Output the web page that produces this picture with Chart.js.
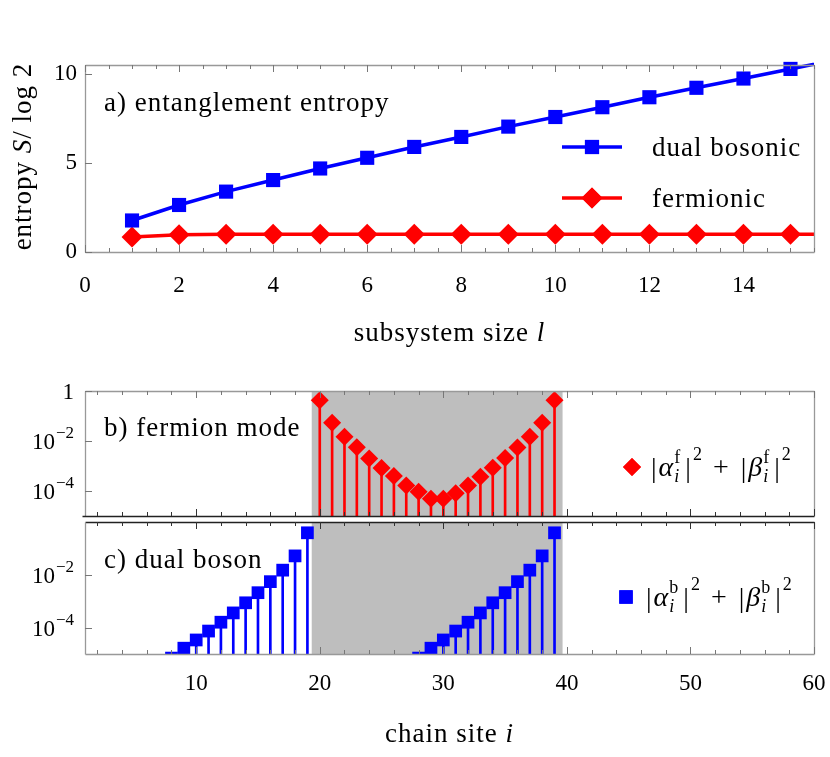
<!DOCTYPE html>
<html>
<head>
<meta charset="utf-8">
<script src="https://cdn.jsdelivr.net/npm/chart.js@4.4.1/dist/chart.umd.min.js"></script>
<style>
  body { margin: 0; background: #fff; }
  #page { position: relative; width: 830px; height: 757px; }
  #page canvas { position: absolute; left: 0; }
</style>
</head>
<body>
<div id="page">
  <canvas id="entropy" width="830" height="360" style="top:0"></canvas>
  <canvas id="fermion" width="830" height="165" style="top:360px"></canvas>
  <canvas id="boson" width="830" height="252" style="top:505px"></canvas>
</div>
<script>
// a) entanglement entropy vs subsystem size
const subsystemSizes = [1, 2, 3, 4, 5, 6, 7, 8, 9, 10, 11, 12, 13, 14, 15, 16];
const dualBosonic = [1.77, 2.64, 3.39, 4.04, 4.69, 5.29, 5.9, 6.46, 7.04, 7.58, 8.13, 8.69, 9.22, 9.74, 10.28, 10.8];
const fermionic = [0.84, 0.97, 1.0, 1.0, 1.0, 1.0, 1.0, 1.0, 1.0, 1.0, 1.0, 1.0, 1.0, 1.0, 1.0, 1.0];
const entropyTicksX = [0, 2, 4, 6, 8, 10, 12, 14];
const entropyTicksY = [0, 5, 10];

// b) fermion mode, c) dual boson
const fermionSites = [20, 21, 22, 23, 24, 25, 26, 27, 28, 29, 30, 31, 32, 33, 34, 35, 36, 37, 38, 39];
const fermionWeight = [0.43, 0.054, 0.0148, 5.6e-3, 2.0e-3, 8.3e-4, 4.0e-4, 1.66e-4, 9.3e-5, 4.9e-5,
                       4.9e-5, 8.2e-5, 1.66e-4, 3.7e-4, 8.6e-4, 2.1e-3, 5.5e-3, 0.0148, 0.054, 0.43];
const bosonSitesLeft = [8, 9, 10, 11, 12, 13, 14, 15, 16, 17, 18, 19];
const bosonSitesRight = [28, 29, 30, 31, 32, 33, 34, 35, 36, 37, 38, 39];
const bosonWeight = [7e-6, 1.66e-5, 3.4e-5, 7.4e-5, 1.6e-4, 3.6e-4, 8.7e-4, 2.1e-3, 5.5e-3, 0.015, 0.052, 0.39];
const siteTicks = [10, 20, 30, 40, 50, 60];
const fermionLogTicks = [1, 1e-2, 1e-4];
const bosonLogTicks = [1e-2, 1e-4];
const shadedSites = [19.35, 39.65];

const BLUE = '#0000ff', RED = '#ff0000';
const SERIF = '"Liberation Serif", "DejaVu Serif", serif';
Chart.defaults.font.family = SERIF;
Chart.defaults.color = '#000';

function font(size, italic) {
  return (italic ? 'italic ' : '') + size + 'px ' + SERIF;
}

function drawRich(ctx, x, y, parts, size, align) {
  ctx.save();
  ctx.letterSpacing = '1px';
  let w = 0;
  for (const [t, it] of parts) { ctx.font = font(size, it); w += ctx.measureText(t).width; }
  let cx = align === 'center' ? x - w / 2 : x;
  ctx.textAlign = 'left';
  ctx.textBaseline = 'alphabetic';
  ctx.fillStyle = '#000';
  for (const [t, it] of parts) {
    ctx.font = font(size, it);
    ctx.fillText(t, cx, y);
    cx += ctx.measureText(t).width;
  }
  ctx.restore();
}

// |α_i^tag|² + |β_i^tag|²
function drawAmplitudes(ctx, x, y, tag) {
  let cx = x;
  ctx.textAlign = 'left';
  ctx.textBaseline = 'alphabetic';
  ctx.fillStyle = '#000';
  const put = (t, size, it, dy, adv = true) => {
    ctx.font = font(size, it);
    ctx.fillText(t, cx, y + dy);
    const w = ctx.measureText(t).width;
    if (adv) cx += w;
    return w;
  };
  for (const g of ['α', 'β']) {
    put('|', 28, false, 1); cx += 2;
    put(g, 28, true, 0); cx += 1;
    const w = Math.max(put(tag, 18, false, -13, false), put('i', 18, true, 6, false));
    cx += w + 5;
    put('|', 28, false, 1); cx += 2;
    put('2', 18, false, -16);
    if (g === 'α') { cx += 11; put('+', 28, false, 0); cx += 12; }
  }
}

function steps(from, to, step) {
  const out = [];
  for (let v = from; v <= to + 1e-9; v += step) out.push(+v.toFixed(6));
  return out;
}

function tickMarks(chart, axis, values, side, len) {
  const {ctx, chartArea: a} = chart;
  const s = chart.scales[axis];
  ctx.beginPath();
  for (const v of values) {
    const p = Math.round(s.getPixelForValue(v)) + 0.5;
    if (side === 'bottom') { ctx.moveTo(p, a.bottom); ctx.lineTo(p, a.bottom - len); }
    if (side === 'top') { ctx.moveTo(p, a.top); ctx.lineTo(p, a.top + len); }
    if (side === 'left') { ctx.moveTo(a.left, p); ctx.lineTo(a.left + len, p); }
  }
  ctx.stroke();
}

function frame(chart, colors) {
  const {ctx, chartArea: a} = chart;
  const l = Math.round(a.left) + 0.5, r = Math.round(a.right) + 0.5;
  const t = Math.round(a.top) + 0.5, b = Math.round(a.bottom) + 0.5;
  const seg = (c, x1, y1, x2, y2) => {
    ctx.strokeStyle = c; ctx.beginPath(); ctx.moveTo(x1, y1); ctx.lineTo(x2, y2); ctx.stroke();
  };
  ctx.lineWidth = 1.3;
  seg(colors.top, l, t, r, t);
  seg(colors.right, r, t, r, b);
  seg(colors.left, l, t, l, b);
  seg(colors.bottom, colors.bottom === '#222' ? l - 3 : l, b, r, b);
}

function logLabels(chart) {
  const {ctx} = chart;
  const s = chart.scales.y;
  const right = chart.chartArea.left - 11;
  ctx.fillStyle = '#000';
  ctx.textAlign = 'right';
  ctx.textBaseline = 'alphabetic';
  for (const t of s.ticks) {
    const y = s.getPixelForValue(t.value);
    if (t.value === 1) {
      ctx.font = font(23);
      ctx.fillText('1', right, y + 8);
      continue;
    }
    const sup = '\u2212' + Math.abs(Math.round(Math.log10(t.value)));
    ctx.font = font(17);
    const ws = ctx.measureText(sup).width;
    ctx.fillText(sup, right, y - 3);
    ctx.font = font(23);
    ctx.fillText('10', right - ws - 1, y + 8);
  }
}

const shade = {
  id: 'shade',
  beforeDatasetsDraw(chart) {
    const {ctx, chartArea: a, scales: {x}} = chart;
    const x1 = x.getPixelForValue(shadedSites[0]), x2 = x.getPixelForValue(shadedSites[1]);
    ctx.save();
    ctx.fillStyle = '#bebebe';
    ctx.fillRect(x1, a.top, x2 - x1, a.bottom - a.top);
    ctx.restore();
  }
};

const hidden = { grid: { display: false, drawTicks: false }, border: { display: false } };
const noEdgePadding = s => { s.paddingLeft = 0; s.paddingRight = 0; s.paddingTop = 0; s.paddingBottom = 0; };

// ---------- a) ----------
new Chart(document.getElementById('entropy'), {
  type: 'line',
  data: {
    datasets: [
      {
        label: 'dual bosonic',
        data: subsystemSizes.map((l, i) => ({ x: l, y: dualBosonic[i] })),
        borderColor: BLUE, backgroundColor: BLUE, pointBackgroundColor: BLUE,
        borderWidth: 3.5, pointStyle: 'rect', pointRadius: 10, pointBorderWidth: 0,
        clip: { left: 12, top: 12, right: 0, bottom: 12 }
      },
      {
        label: 'fermionic',
        data: subsystemSizes.map((l, i) => ({ x: l, y: fermionic[i] })),
        borderColor: RED, backgroundColor: RED, pointBackgroundColor: RED,
        borderWidth: 3.5, pointStyle: 'rectRot', pointRadius: 10.5, pointBorderWidth: 0,
        clip: { left: 12, top: 12, right: 0, bottom: 12 }
      }
    ]
  },
  options: {
    responsive: false,
    animation: false,
    layout: { padding: { left: 0, top: 65, right: 16, bottom: 58 } },
    scales: {
      x: {
        type: 'linear', min: 0, max: 15.5, ...hidden,
        afterBuildTicks: s => { s.ticks = entropyTicksX.map(v => ({ value: v })); },
        afterFit: s => { s.height = 50; noEdgePadding(s); },
        ticks: { font: { size: 23 }, padding: 20, maxRotation: 0, autoSkip: false }
      },
      y: {
        type: 'linear', min: 0, max: 10.5, ...hidden,
        afterBuildTicks: s => { s.ticks = entropyTicksY.map(v => ({ value: v })); },
        afterFit: s => { s.width = 85; noEdgePadding(s); },
        ticks: { font: { size: 23 }, padding: 8 }
      }
    },
    plugins: { legend: { display: false }, tooltip: { enabled: false } }
  },
  plugins: [{
    id: 'decorA',
    afterDraw(chart) {
      const {ctx} = chart;
      ctx.save();
      frame(chart, { top: '#999', right: '#999', left: '#999', bottom: '#999' });
      ctx.strokeStyle = '#777';
      ctx.lineWidth = 1;
      const halves = steps(0, 15.5, 0.5);
      tickMarks(chart, 'x', halves, 'bottom', 4);
      tickMarks(chart, 'x', halves, 'top', 4);
      tickMarks(chart, 'x', entropyTicksX, 'bottom', 7);
      tickMarks(chart, 'x', entropyTicksX, 'top', 7);
      tickMarks(chart, 'y', entropyTicksY, 'left', 7);

      drawRich(ctx, 104, 111, [['a) entanglement entropy', false]], 27);

      // legend
      const items = [
        { label: 'dual bosonic', color: BLUE, style: 'rect', r: 10, y: 147, ty: 156 },
        { label: 'fermionic', color: RED, style: 'rectRot', r: 10.5, y: 198, ty: 207 }
      ];
      for (const it of items) {
        ctx.strokeStyle = it.color;
        ctx.lineWidth = 3.5;
        ctx.beginPath(); ctx.moveTo(562, it.y); ctx.lineTo(622, it.y); ctx.stroke();
        ctx.fillStyle = it.color;
        Chart.helpers.drawPoint(ctx, { pointStyle: it.style, radius: it.r, borderWidth: 0 }, 592, it.y);
        ctx.fill();
        drawRich(ctx, 652, it.ty, [[it.label, false]], 27);
      }

      drawRich(ctx, (chart.chartArea.left + chart.chartArea.right) / 2, 341,
        [['subsystem size ', false], ['l', true]], 27, 'center');

      ctx.translate(31, (chart.chartArea.top + chart.chartArea.bottom) / 2 - 2);
      ctx.rotate(-Math.PI / 2);
      drawRich(ctx, 0, 0, [['entropy ', false], ['S', true], ['/ log 2', false]], 27, 'center');
      ctx.restore();
    }
  }]
});

// ---------- b) ----------
new Chart(document.getElementById('fermion'), {
  type: 'scatter',
  data: {
    datasets: [
      {
        type: 'scatter', label: 'fermion',
        data: fermionSites.map((s, i) => ({ x: s, y: fermionWeight[i] })),
        backgroundColor: RED, pointStyle: 'rectRot', pointRadius: 9, borderWidth: 0, order: 1
      },
      {
        type: 'bar', label: 'fermion stems',
        data: fermionSites.map((s, i) => ({ x: s, y: fermionWeight[i] })),
        backgroundColor: RED, barThickness: 2, borderWidth: 0, order: 2
      }
    ]
  },
  options: {
    responsive: false,
    animation: false,
    layout: { padding: { left: 0, top: 31, right: 16, bottom: 3 } },
    scales: {
      x: { type: 'linear', min: 1, max: 60, offset: false, display: false, afterFit: noEdgePadding },
      y: {
        type: 'logarithmic', min: 1e-5, max: 1, ...hidden,
        afterBuildTicks: s => { s.ticks = fermionLogTicks.map(v => ({ value: v })); },
        afterFit: s => { s.width = 85; noEdgePadding(s); },
        ticks: { display: false }
      }
    },
    plugins: { legend: { display: false }, tooltip: { enabled: false } }
  },
  plugins: [shade, {
    id: 'decorB',
    afterDraw(chart) {
      const {ctx} = chart;
      ctx.save();
      frame(chart, { top: '#999', right: '#999', left: '#999', bottom: '#222' });
      ctx.strokeStyle = '#777';
      ctx.lineWidth = 1;
      const evens = steps(2, 60, 2);
      tickMarks(chart, 'x', evens, 'top', 4);
      tickMarks(chart, 'x', siteTicks, 'top', 7);
      ctx.strokeStyle = '#333';
      tickMarks(chart, 'x', evens, 'bottom', 4);
      tickMarks(chart, 'x', siteTicks, 'bottom', 7);
      ctx.strokeStyle = '#777';
      tickMarks(chart, 'y', fermionLogTicks, 'left', 7);
      logLabels(chart);

      drawRich(ctx, 104, 76, [['b) fermion mode', false]], 27);
      ctx.fillStyle = RED;
      Chart.helpers.drawPoint(ctx, { pointStyle: 'rectRot', radius: 9, borderWidth: 0 }, 632, 107);
      ctx.fill();
      drawAmplitudes(ctx, 651, 116, 'f');
      ctx.restore();
    }
  }]
});

// ---------- c) ----------
const bosonPoints = [
  ...bosonSitesLeft.map((s, i) => ({ x: s, y: bosonWeight[i] })),
  ...bosonSitesRight.map((s, i) => ({ x: s, y: bosonWeight[i] }))
];
new Chart(document.getElementById('boson'), {
  type: 'scatter',
  data: {
    datasets: [
      {
        type: 'scatter', label: 'boson',
        data: bosonPoints,
        backgroundColor: BLUE, pointStyle: 'rect', pointRadius: 9, borderWidth: 0, order: 1,
        clip: { left: 0, top: 10, right: 0, bottom: 0 }
      },
      {
        type: 'bar', label: 'boson stems',
        data: bosonPoints,
        backgroundColor: BLUE, barThickness: 2, borderWidth: 0, order: 2,
        clip: 0
      }
    ]
  },
  options: {
    responsive: false,
    animation: false,
    layout: { padding: { left: 0, top: 17, right: 16, bottom: 43 } },
    scales: {
      x: {
        type: 'linear', min: 1, max: 60, offset: false, ...hidden,
        afterBuildTicks: s => { s.ticks = siteTicks.map(v => ({ value: v })); },
        afterFit: s => { s.height = 60; noEdgePadding(s); },
        ticks: { font: { size: 23 }, padding: 16, maxRotation: 0, autoSkip: false }
      },
      y: {
        type: 'logarithmic', min: 1e-5, max: 1, ...hidden,
        afterBuildTicks: s => { s.ticks = bosonLogTicks.map(v => ({ value: v })); },
        afterFit: s => { s.width = 85; noEdgePadding(s); },
        ticks: { display: false }
      }
    },
    plugins: { legend: { display: false }, tooltip: { enabled: false } }
  },
  plugins: [shade, {
    id: 'decorC',
    afterDraw(chart) {
      const {ctx} = chart;
      ctx.save();
      frame(chart, { top: '#222', right: '#999', left: '#999', bottom: '#999' });
      ctx.lineWidth = 1;
      const evens = steps(2, 60, 2);
      ctx.strokeStyle = '#333';
      tickMarks(chart, 'x', evens, 'top', 4);
      tickMarks(chart, 'x', siteTicks, 'top', 7);
      ctx.strokeStyle = '#777';
      tickMarks(chart, 'x', evens, 'bottom', 4);
      tickMarks(chart, 'x', siteTicks, 'bottom', 7);
      tickMarks(chart, 'y', bosonLogTicks, 'left', 7);
      logLabels(chart);

      drawRich(ctx, 104, 63, [['c) dual boson', false]], 27);
      ctx.fillStyle = BLUE;
      Chart.helpers.drawPoint(ctx, { pointStyle: 'rect', radius: 9.5, borderWidth: 0 }, 626, 92);
      ctx.fill();
      drawAmplitudes(ctx, 646, 101, 'b');

      drawRich(ctx, (chart.chartArea.left + chart.chartArea.right) / 2, 237,
        [['chain site ', false], ['i', true]], 27, 'center');
      ctx.restore();
    }
  }]
});
</script>
</body>
</html>
